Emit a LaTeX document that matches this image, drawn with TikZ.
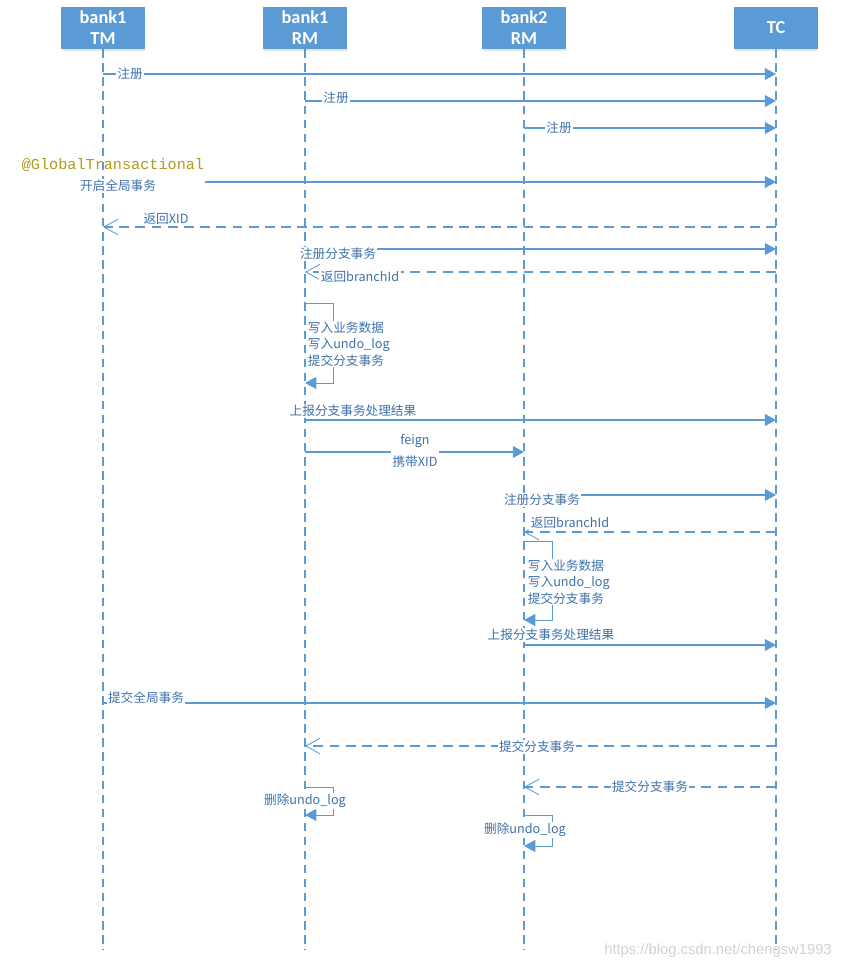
\documentclass[tikz,border=0pt]{standalone}
\usepackage{fontspec}
\setmainfont{Carlito}
\newfontfamily\cjk{Noto Sans CJK SC}
\newfontfamily\codefont{Liberation Mono}
\newfontfamily\markfont{Liberation Sans}
\usetikzlibrary{arrows.meta,shadows}
\definecolor{sq-head}{HTML}{5B9BD5}
\definecolor{sq-line}{HTML}{5B9BD5}
\definecolor{sq-text}{HTML}{3F72AA}
\definecolor{sq-anno}{HTML}{B09A1C}

\tikzset{
    head/.style={fill=sq-head, text=white, align=center,
        font=\bfseries\fontsize{13}{15}\selectfont,
        minimum width=2.075cm, minimum height=1.05cm, inner sep=0pt,
        drop shadow={opacity=0.2, shadow xshift=0.6pt, shadow yshift=-1.2pt}},
    life/.style={sq-line, line width=0.9pt, dash pattern=on 6pt off 4pt},
    msg/.style={sq-line, line width=0.9pt, -{Triangle[length=8pt,width=8.5pt]}},
    ret/.style={sq-line, line width=0.9pt, dash pattern=on 7pt off 4.5pt,
        -{Straight Barb[length=10pt,width=11pt,line width=0.6pt]}},
    self/.style={sq-line, line width=0.7pt, -{Triangle[length=8pt,width=8.5pt]}},
    lbl/.style={text=sq-text, font=\cjk\fontsize{9}{11.7}\selectfont, inner sep=1pt, fill=white},
    note/.style={lbl, align=left, inner sep=0.5pt},
}

\begin{document}
\begin{tikzpicture}[x=0.025cm, y=-0.025cm]
    \useasboundingbox (0,0) rectangle (850,969);

    % participants
    \node[head] (tm)  at (103,28) {bank1\\TM};
    \node[head] (rm1) at (305,28) {bank1\\RM};
    \node[head] (rm2) at (524,28) {bank2\\RM};
    \node[head] (tc)  at (776,28) {TC};
    \foreach \p in {tm,rm1,rm2,tc}
        \draw[life] (\p.south) -- (\p |- 0,950);

    % registration
    \draw[msg] (tm |- 0,74) -- (tc |- 0,74);
    \node[lbl] (reg1) at (130,74) {注册};
    \draw[msg] (rm1 |- 0,101) -- (tc |- 0,101);
    \node[lbl] (reg2) at (336,98) {注册};
    \draw[msg] (rm2 |- 0,128) -- (tc |- 0,128);
    \node[lbl] (reg3) at (559,128) {注册};

    % global transaction
    \coordinate (gstart) at (205,182);
    \node[font=\codefont\fontsize{10.8}{12}\selectfont, text=sq-anno, inner sep=0pt] (anno) at (113,165) {@GlobalTransactional};
    \node[lbl] (begin) at (118,186) {开启全局事务};
    \draw[msg] (gstart) -- (tc |- gstart);
    \draw[ret] (tc |- 0,227) -- (tm |- 0,227);
    \node[lbl, fill=none] (xid) at (166,219) {返回XID};

    % branch of bank1
    \draw[msg] (rm1 |- 0,249) -- (tc |- 0,249);
    \node[lbl] (br1) at (338,254) {注册分支事务};
    \draw[ret] (tc |- 0,272) -- (rm1 |- 0,272);
    \node[lbl] (bid1) at (360,277) {返回branchId};
    \draw[self] (rm1 |- 0,303) -- ++(28,0) -- ++(0,80) -- (rm1 |- 0,383);
    \node[note, anchor=west] (work1) at (307,344) {写入业务数据\\写入undo\_log\\提交分支事务};
    \draw[msg] (rm1 |- 0,420) -- (tc |- 0,420);
    \node[lbl] (rep1) at (353,411) {上报分支事务处理结果};

    % call bank2
    \draw[msg] (rm1 |- 0,452) -- (rm2 |- 0,452);
    \node[lbl, align=center, font=\cjk\fontsize{9}{16}\selectfont] (feign) at (415,451) {feign\\携带XID};

    % branch of bank2
    \draw[msg] (rm2 |- 0,495) -- (tc |- 0,495);
    \node[lbl] (br2) at (542,500) {注册分支事务};
    \draw[ret] (tc |- 0,532) -- (rm2 |- 0,532);
    \node[lbl] (bid2) at (570,523) {返回branchId};
    \draw[self] (rm2 |- 0,541) -- ++(28,0) -- ++(0,79) -- (rm2 |- 0,620);
    \node[note, anchor=west] (work2) at (527,582) {写入业务数据\\写入undo\_log\\提交分支事务};
    \draw[msg] (rm2 |- 0,645) -- (tc |- 0,645);
    \node[lbl] (rep2) at (551,635) {上报分支事务处理结果};

    % commit
    \draw[msg] (tm |- 0,703) -- (tc |- 0,703);
    \node[lbl] (commit) at (146,698) {提交全局事务};
    \draw[ret] (tc |- 0,746) -- (rm1 |- 0,746);
    \node[lbl] (cb1) at (537,747) {提交分支事务};
    \draw[ret] (tc |- 0,787) -- (rm2 |- 0,787);
    \node[lbl] (cb2) at (650,787) {提交分支事务};
    \draw[self] (rm1 |- 0,787) -- ++(28,0) -- ++(0,28) -- (rm1 |- 0,815);
    \node[lbl] (del1) at (305,801) {删除undo\_log};
    \draw[self] (rm2 |- 0,815) -- ++(28,0) -- ++(0,31) -- (rm2 |- 0,846);
    \node[lbl] (del2) at (525,830) {删除undo\_log};

    \node[font=\markfont\fontsize{10.5}{12}\selectfont, text=black!18, inner sep=0pt] (wm) at (718,951) {https://blog.csdn.net/chengsw1993};
\end{tikzpicture}
\end{document}
